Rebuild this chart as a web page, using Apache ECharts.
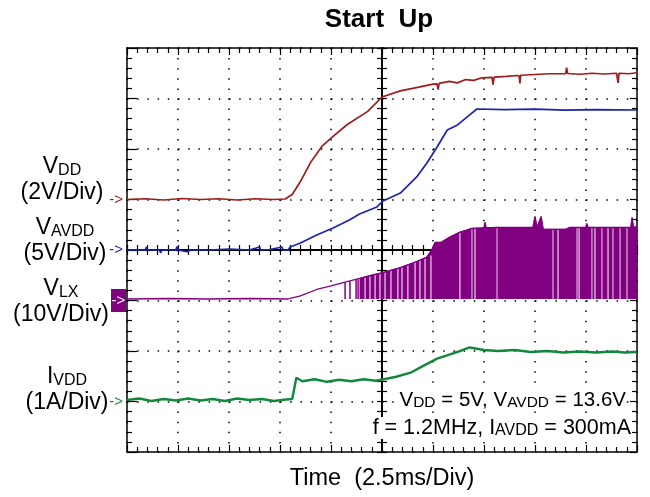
<!DOCTYPE html>
<html>
<head>
<meta charset="utf-8">
<script src="https://cdn.jsdelivr.net/npm/echarts@6/dist/echarts.min.js"></script>
<style>
html,body{margin:0;padding:0;background:#fff;}
#chart{width:650px;height:497px;}
</style>
</head>
<body>
<div id="chart"></div>
<script>
// ---------------- data (time in ms, 2.5 ms/div) ----------------
const TIME_MAX = 25;          // 10 div x 2.5 ms
const TIME_DIV = 2.5;
const V_DIVS = 8;

// VDD trace, volts (2 V/div, ground marker at div 5)
const vdd = [[0,0],[0.9,0.03],[1.8,-0.02],[2.7,0.04],[3.6,0],[4.5,0.03],[5.4,-0.02],[6.3,0.03],[7.2,0],[7.75,0.02],
  [8.1,0.2],[8.5,0.71],[9.0,1.47],[9.55,2.10],[10.1,2.50],[10.8,2.97],[11.8,3.49],[12.5,4.06],[13.4,4.30],[14.3,4.45],
  [15.0,4.57],[15.2,4.58],[15.25,4.35],[15.3,4.6],[15.8,4.68],[16.2,4.62],[16.6,4.75],[17.0,4.72],[17.4,4.82],[17.9,4.84],[17.94,4.55],[18.0,4.85],
  [18.6,4.88],[19.1,4.91],[19.22,4.9],[19.26,4.6],[19.3,4.92],[20.0,4.95],[20.7,4.98],[21.5,4.98],[21.55,5.22],[21.6,4.99],
  [22.2,4.96],[22.8,5.0],[23.4,4.97],[24.0,5.0],[24.07,4.62],[24.12,5.0],[24.6,4.98],[25,5.02]];

// VAVDD trace, volts (5 V/div, ground marker at div 4)
const vavdd = [[0,0],[0.9,0],[0.95,0.3],[1.0,0],[1.6,0],[1.65,-0.3],[1.7,0],[2.4,0],[2.45,0.35],[2.5,0],[3.0,-0.2],[3.05,0],
  [4.0,0],[5.0,0.1],[6.0,0],[6.5,0.3],[6.55,0],[7.0,0.05],[7.6,0.3],[7.65,0],[7.9,0],[8.0,0.3],[8.5,0.69],[9.3,1.49],[10.1,2.18],
  [10.9,2.97],[11.4,3.56],[12.25,4.26],[12.55,4.85],[13.4,5.64],[14.2,7.23],[14.7,8.61],[15.2,10.2],[15.7,11.88],[16.2,12.38],
  [16.8,13.37],[17.15,13.96],[18.5,13.9],[20,13.95],[21.5,13.85],[23,13.9],[25,13.86]];

// VLX envelope, volts (10 V/div, ground marker at div 3)
const vlxEnvelope = [[0,0.3],[2,0.4],[4,0.3],[6,0.4],[7.9,0.3],[8.5,0.9],[9.3,2.18],[10.0,2.9],[10.6,3.56],[11.4,4.36],
  [12.0,5.0],[12.55,5.54],[13.4,6.53],[14.2,7.72],[14.7,8.6],[14.95,10.1],[15.1,11.5],[15.4,11.5],[15.8,12.5],[16.3,13.5],
  [16.9,14.26],[17.5,14.4],[17.55,15.45],[17.6,14.4],[18.1,14.46],[19.9,14.46],[20.0,16.6],[20.1,14.46],[20.3,16.6],[20.4,14.1],
  [21.5,14.1],[21.7,14.46],[22.5,14.46],[22.53,15.25],[22.6,14.46],[24.7,14.46],[24.76,16.4],[24.82,14.5],[25,14.6]];
const vlxSwitchStart = 11.4;   // ms, continuous switching begins
const vlxLow = 0.3;            // V, bottom of switching band
// isolated early switching pulses [time, top V]
const vlxPulses = [[10.69,3.5],[10.93,3.8],[11.23,4.1],[11.33,4.2]];
// white gaps inside the band [time, top V]
const vlxWhiteGaps = [[11.67,4.6],[11.91,4.9],[12.16,5.1],[12.40,5.3],[12.65,5.6],[12.94,6.0],[13.28,6.4],[13.48,6.6],
  [13.77,7.0],[14.12,7.6],[14.36,7.9],[14.61,8.3],[14.90,8.9],[16.32,13.4],[17.06,14.3],[21.13,14.1],[22.16,14.4],[22.94,14.4],[23.58,14.4]];
// lighter stripes inside the band [time, top V]
const vlxLightGaps = [[16.91,14.2],[18.14,14.4],[20.88,14.1],[22.06,14.4],[22.79,14.4],[23.28,14.4],[23.82,14.4],[24.17,14.4],[24.51,14.4]];

// IVDD trace, amps (1 A/div, ground marker at div 1)
const ivdd = [[0,0.03],[0.6,0.06],[1.2,0.01],[1.8,0.05],[2.4,0.02],[3.0,0.06],[3.6,0.02],[4.2,0.05],[4.8,0.01],[5.4,0.06],
  [6.0,0.03],[6.6,0.05],[7.2,0.01],[7.8,0.04],[8.1,0.05],[8.3,0.47],[8.6,0.40],[9.2,0.44],[9.8,0.39],[10.4,0.43],[11.0,0.40],
  [11.6,0.44],[12.2,0.41],[12.6,0.44],[13.2,0.49],[13.9,0.57],[14.5,0.70],[15.2,0.85],[15.8,0.93],[16.4,1.01],[16.8,1.07],
  [17.5,1.02],[18.2,1.0],[19.0,1.02],[19.8,0.98],[20.6,1.0],[21.4,0.97],[22.2,0.99],[23.0,0.97],[23.8,0.99],[24.4,0.97],[25,0.98]];

// channel scales: units per division and ground-marker division
const channels = [
  {name:'VDD',   perDiv:2,  zeroDiv:5},
  {name:'VAVDD', perDiv:5,  zeroDiv:4},
  {name:'VLX',   perDiv:10, zeroDiv:3},
  {name:'IVDD',  perDiv:1,  zeroDiv:1}
];
const markerDivs = {5:'r', 4:'b', 3:'p', 1:'g'};

// ---------------- chart ----------------
const FONT = '"Liberation Sans", Arial, sans-serif';
const BLACK = '#000';
const C_VDD = '#a01c1c', C_AVDD = '#1a24b0', C_LX = '#800080', C_I = '#11883c';
const tickStyle = {color: BLACK, width: 1.2};
const GRID = {left:127, right:13, top:48, bottom:45};
const GH = 497 - GRID.top - GRID.bottom;
const GW = 650 - GRID.left - GRID.right;

function xAx(pos, opts) {
  return Object.assign({
    type:'value', min:0, max:TIME_MAX, interval:TIME_DIV, position:pos,
    axisLine:{show:true, onZero:false, lineStyle:{color:BLACK, width:1.5}},
    axisTick:{show:true, inside:true, length:7, lineStyle:tickStyle},
    minorTick:{show:true, splitNumber:5, length:5, lineStyle:tickStyle},
    axisLabel:{show:false}, splitLine:{show:false}
  }, opts);
}
function yAx(pos, opts) {
  return Object.assign({
    type:'value', min:0, max:V_DIVS, interval:1, position:pos,
    axisLine:{show:true, onZero:false, lineStyle:{color:BLACK, width:1.5}},
    axisTick:{show:true, inside:true, length:10, lineStyle:tickStyle},
    minorTick:{show:true, splitNumber:5, length:5, lineStyle:tickStyle},
    axisLabel:{show:false}, splitLine:{show:false}
  }, opts);
}

const xAxes = [
  xAx('bottom', {
    splitLine:{show:true, lineStyle:{color:BLACK, width:1.5, type:[1.5, GH/40 - 1.5]}},
    name:'Time  (2.5ms/Div)', nameLocation:'middle', nameGap:15,
    nameTextStyle:{fontFamily:FONT, fontSize:23.5, color:BLACK}
  }),
  xAx('top', {}),
  xAx('bottom', {offset:-GH/2, axisLine:{show:true,onZero:false,lineStyle:{color:BLACK,width:2}},
    axisTick:{show:true,inside:true,length:5,lineStyle:tickStyle}}),
  xAx('bottom', {offset:-GH/2, axisLine:{show:false,onZero:false},
    axisTick:{show:true,inside:false,length:5,lineStyle:tickStyle}})
];

const yAxes = [
  yAx('left', {
    splitLine:{show:true, lineStyle:{color:BLACK, width:1.5, type:[1.5, GW/50 - 1.5]}},
    axisLabel:{show:true, margin:1, formatter: v => markerDivs[v] ? '{' + markerDivs[v] + '|->}' : '',
      rich:{
        r:{color:C_VDD, fontSize:15, fontFamily:FONT, padding:[0,3,0,0]},
        b:{color:C_AVDD, fontSize:15, fontFamily:FONT, padding:[0,3,0,0]},
        g:{color:C_I, fontSize:15, fontFamily:FONT, padding:[0,3,0,0]},
        p:{color:'#fff', backgroundColor:C_LX, fontSize:15, fontFamily:FONT, width:15, height:23, lineHeight:23, align:'center'}
      }}
  })
];
channels.forEach(c => {
  yAxes.push({type:'value', show:false, min:-c.zeroDiv*c.perDiv, max:(V_DIVS - c.zeroDiv)*c.perDiv,
    axisLine:{onZero:false}, splitLine:{show:false}});
});
yAxes.push(yAx('right', {axisTick:{show:true, inside:true, length:7, lineStyle:tickStyle}}));
yAxes.push(yAx('left', {offset:-GW/2, axisLine:{show:true,onZero:false,lineStyle:{color:BLACK,width:2}},
  axisTick:{show:true,inside:true,length:5,lineStyle:tickStyle}}));
yAxes.push(yAx('left', {offset:-GW/2, axisLine:{show:false,onZero:false},
  axisTick:{show:true,inside:false,length:5,lineStyle:tickStyle}}));

function stripe(color, width) {
  return function(params, api) {
    const t = api.value(0), top = api.value(1);
    const a = api.coord([t, vlxLow]);
    const b = api.coord([t, top]);
    return {type:'line', shape:{x1:a[0], y1:a[1], x2:b[0], y2:b[1]}, style:{stroke:color, lineWidth:width}};
  };
}
function stripeSeries(data, color, width) {
  return {type:'custom', xAxisIndex:0, yAxisIndex:3, data:data, encode:{x:0, y:1}, z:4,
    renderItem:stripe(color, width), silent:true, animation:false, clip:true};
}
function trace(data, yIdx, color, width, z) {
  return {type:'line', data:data, xAxisIndex:0, yAxisIndex:yIdx, showSymbol:false, symbol:'none', z:z || 5,
    lineStyle:{color:color, width:width}, itemStyle:{color:color}, animation:false, silent:true};
}

const series = [
  Object.assign(trace(vlxEnvelope.filter(p => p[0] >= vlxSwitchStart), 3, C_LX, 1, 3),
    {areaStyle:{color:C_LX, opacity:1, origin:vlxLow}}),
  stripeSeries(vlxPulses, C_LX, 1.5),
  stripeSeries(vlxLightGaps, '#c98ac9', 1.5),
  stripeSeries(vlxWhiteGaps, '#ffffff', 1),
  trace(vlxEnvelope, 3, C_LX, 1.3),
  trace(vdd, 1, C_VDD, 1.7),
  trace(vavdd, 2, C_AVDD, 1.7),
  trace(ivdd, 4, C_I, 2.4)
];

function label(x, top, lines, lh) {
  return {type:'text', x:x, y:top, silent:true, z:100,
    style:{text: lines.join('\n'), align:'center', verticalAlign:'top', fontFamily:FONT, fill:BLACK,
      rich:{
        m:{fontSize:23, fontFamily:FONT, color:BLACK, lineHeight:lh, verticalAlign:'bottom'},
        s:{fontSize:16, fontFamily:FONT, color:BLACK, lineHeight:20, verticalAlign:'bottom'}
      }}};
}
function note(xRight, top, text, m, s) {
  return {type:'text', x:xRight, y:top, silent:true, z:100,
    style:{text:text, align:'right', verticalAlign:'top', fontFamily:FONT, fill:BLACK, backgroundColor:'#fff',
      rich:{
        m:{fontSize:m, fontFamily:FONT, color:BLACK, lineHeight:22, verticalAlign:'bottom'},
        s:{fontSize:s, fontFamily:FONT, color:BLACK, lineHeight:18, verticalAlign:'bottom'}
      }}};
}

const graphic = [
  {type:'text', x:379, y:19.5, silent:true,
    style:{text:'Start  Up', align:'center', verticalAlign:'middle', fontFamily:FONT, fontSize:26, fontWeight:'bold', fill:BLACK}},
  label(62, 153, ['{m|V}{s|DD}', '{m|(2V/Div)}'], 25.5),
  label(65, 214, ['{m|V}{s|AVDD}', '{m|(5V/Div)}'], 25.5),
  label(61, 275, ['{m|V}{s|LX}', '{m|(10V/Div)}'], 25.5),
  label(67, 363, ['{m|I}{s|VDD}', '{m|(1A/Div)}'], 25.5),
  note(626, 389, '{m|V}{s|DD}{m| = 5V, V}{s|AVDD}{m| = 13.6V}', 20.5, 15.5),
  note(631, 417, '{m|f = 1.2MHz, I}{s|AVDD}{m| = 300mA}', 21.5, 16)
];

const chart = echarts.init(document.getElementById('chart'), null, {renderer:'canvas'});
chart.setOption({
  animation:false,
  backgroundColor:'#fff',
  grid:Object.assign({show:false, containLabel:false}, GRID),
  xAxis:xAxes,
  yAxis:yAxes,
  series:series,
  graphic:graphic
});
</script>
</body>
</html>
